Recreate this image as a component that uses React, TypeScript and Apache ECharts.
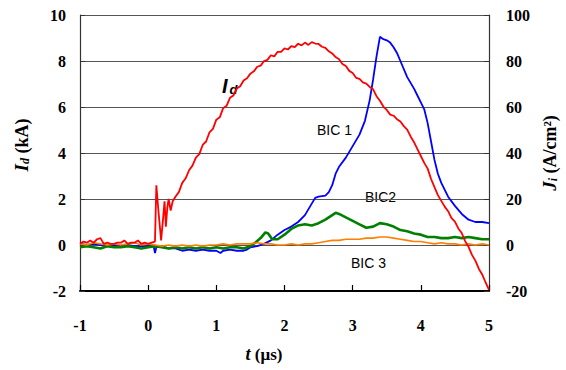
import React, { useEffect, useRef } from "react";
import * as echarts from "echarts";

// Discharge current I_d (kA) — left axis
const tRed = [-1.0, -0.95, -0.9, -0.85, -0.8, -0.75, -0.7, -0.65, -0.6, -0.55, -0.5, -0.45, -0.4, -0.35, -0.3, -0.25, -0.2, -0.15, -0.1, -0.05, 0.0, 0.05, 0.1, 0.12, 0.15, 0.19, 0.22, 0.24, 0.26, 0.28, 0.3, 0.33, 0.36, 0.4, 0.45, 0.5, 0.55, 0.6, 0.65, 0.7, 0.75, 0.8, 0.85, 0.9, 0.95, 1.0, 1.05, 1.1, 1.15, 1.2, 1.25, 1.3, 1.35, 1.4, 1.45, 1.5, 1.55, 1.6, 1.65, 1.7, 1.75, 1.8, 1.85, 1.9, 1.95, 2.0, 2.05, 2.1, 2.15, 2.2, 2.25, 2.3, 2.35, 2.4, 2.45, 2.5, 2.55, 2.6, 2.65, 2.7, 2.75, 2.8, 2.85, 2.9, 2.95, 3.0, 3.05, 3.1, 3.15, 3.2, 3.25, 3.3, 3.35, 3.4, 3.45, 3.5, 3.55, 3.6, 3.65, 3.7, 3.75, 3.8, 3.85, 3.9, 3.95, 4.0, 4.05, 4.1, 4.15, 4.2, 4.25, 4.3, 4.35, 4.4, 4.45, 4.5, 4.55, 4.6, 4.65, 4.7, 4.75, 4.8, 4.85, 4.9, 4.95, 5.0];
const idKA = [0.05, 0.15, 0.1, 0.2, 0.1, 0.25, 0.3, 0.05, 0.1, 0.05, 0.05, 0.1, 0.1, 0.2, 0.05, 0.1, 0.1, 0.2, 0.05, 0.1, 0.05, 0.1, 0.15, 2.6, 1.5, 0.2, 1.2, 1.9, 0.8, 1.6, 2.0, 1.5, 1.9, 2.1, 2.3, 2.7, 2.9, 3.25, 3.45, 3.8, 3.95, 4.35, 4.5, 4.9, 5.05, 5.45, 5.55, 5.95, 6.05, 6.4, 6.5, 6.8, 6.9, 7.15, 7.25, 7.45, 7.55, 7.75, 7.8, 8.0, 8.05, 8.25, 8.2, 8.4, 8.4, 8.55, 8.5, 8.65, 8.6, 8.75, 8.68, 8.8, 8.7, 8.82, 8.76, 8.74, 8.62, 8.57, 8.42, 8.33, 8.17, 8.08, 7.87, 7.78, 7.57, 7.48, 7.27, 7.22, 7.07, 7.02, 6.87, 6.77, 6.47, 6.27, 6.02, 5.87, 5.67, 5.62, 5.47, 5.37, 5.17, 5.02, 4.72, 4.47, 4.17, 3.87, 3.57, 3.32, 2.87, 2.52, 2.17, 1.92, 1.67, 1.47, 1.17, 1.02, 0.72, 0.52, 0.17, -0.08, -0.43, -0.68, -1.03, -1.28, -1.63, -1.95];

// Ion current density BIC 1 (A/cm²) — right axis
const tBic1 = [-1.0, -0.9, -0.8, -0.7, -0.6, -0.5, -0.4, -0.3, -0.2, -0.1, 0.0, 0.08, 0.1, 0.12, 0.2, 0.3, 0.4, 0.5, 0.6, 0.7, 0.8, 0.9, 1.0, 1.06, 1.1, 1.2, 1.3, 1.4, 1.45, 1.5, 1.6, 1.7, 1.8, 1.9, 2.0, 2.1, 2.2, 2.3, 2.4, 2.45, 2.5, 2.6, 2.65, 2.7, 2.75, 2.8, 2.9, 3.0, 3.1, 3.18, 3.25, 3.3, 3.35, 3.4, 3.45, 3.5, 3.55, 3.6, 3.65, 3.7, 3.8, 3.9, 3.95, 4.0, 4.05, 4.1, 4.15, 4.2, 4.25, 4.3, 4.4, 4.5, 4.6, 4.7, 4.8, 4.9, 5.0];
const jBic1 = [0.5, 0, 0.5, 0, -0.5, 0, -0.5, 0, -0.5, -0.5, -0.5, -0.5, -3.5, -1, -0.5, -1.5, -1.5, -2.5, -2, -2.5, -2, -2.5, -2.5, -3.5, -2.5, -2, -2.5, -2.5, -2, -1, -0.5, 0.5, 2, 4.5, 6.5, 8, 10, 13, 18, 20.5, 21, 21.5, 23, 26, 31, 34, 38, 43, 48, 54, 63, 72, 82, 90.5, 89.5, 89, 88, 86, 83.5, 80, 73, 68, 65, 62, 59, 53, 45, 37, 31, 27, 21, 17, 13.5, 11, 10, 10, 9.5];

// BIC2 (A/cm²) — right axis
const tBic2 = [-1.0, -0.9, -0.8, -0.7, -0.6, -0.5, -0.4, -0.3, -0.2, -0.1, 0.0, 0.1, 0.2, 0.3, 0.4, 0.5, 0.6, 0.7, 0.8, 0.9, 1.0, 1.1, 1.2, 1.3, 1.4, 1.5, 1.57, 1.65, 1.72, 1.76, 1.82, 1.9, 2.0, 2.1, 2.2, 2.3, 2.4, 2.5, 2.6, 2.7, 2.75, 2.8, 2.9, 3.0, 3.1, 3.2, 3.3, 3.4, 3.5, 3.6, 3.7, 3.8, 3.9, 4.0, 4.1, 4.2, 4.3, 4.4, 4.5, 4.6, 4.7, 4.8, 4.9, 5.0];
const jBic2 = [-1, -0.5, -1, -1.5, -0.5, -1, -1, -0.5, -1, -1.5, -1, -0.5, -1, -1.5, -1, -1.5, -1, -1.5, -1, -1.5, -1, -1.5, -1, -1, -1.5, -0.5, 1, 3, 5.5, 5, 2.5, 2.5, 4.5, 7, 8.5, 9, 8.5, 9.5, 11, 13, 14, 13.5, 12, 10.5, 9, 7.5, 8, 9.5, 9, 8, 6.5, 6, 5, 4.5, 3.5, 3.5, 3, 3, 3.5, 3, 3.5, 3, 2.5, 2.5];

// BIC 3 (A/cm²) — right axis
const tBic3 = [-1.0, -0.9, -0.8, -0.7, -0.6, -0.5, -0.4, -0.3, -0.2, -0.1, 0.0, 0.1, 0.2, 0.3, 0.4, 0.5, 0.6, 0.7, 0.8, 0.9, 1.0, 1.1, 1.2, 1.3, 1.4, 1.5, 1.6, 1.7, 1.8, 1.9, 2.0, 2.1, 2.2, 2.3, 2.4, 2.5, 2.6, 2.7, 2.8, 2.9, 3.0, 3.1, 3.2, 3.3, 3.4, 3.5, 3.6, 3.7, 3.8, 3.9, 4.0, 4.1, 4.2, 4.3, 4.4, 4.5, 4.6, 4.7, 4.8, 4.9, 5.0];
const jBic3 = [0.5, 0, 1, 0.5, 0, 0.5, 0, 0.5, 1, 0, 0.5, 0, -0.5, 0, -0.5, 0, -0.5, 0, -0.5, 0, 0, 0.5, 0, 0.5, 0.5, 0.5, 1, 0.5, 0.5, 0, 0, 0.5, 0, 0.5, 0.5, 1, 1.5, 2, 2, 2.5, 2.5, 2.5, 3, 3, 3.5, 3.5, 3, 2.5, 2, 1.5, 1.5, 1, 0.5, 1, 0.5, 0.5, 0, 0.5, 0, 0.5, 0];

const xTicks = [-1, 0, 1, 2, 3, 4, 5];

const pairs = (t: number[], v: number[]) => t.map((x, i) => [x, v[i]]);

const SERIF = "'Liberation Serif', 'Times New Roman', serif";
const SANS = "'Liberation Sans', Arial, sans-serif";

export default function App() {
  const ref = useRef<HTMLDivElement>(null);
  useEffect(() => {
    if (!ref.current) return;
    const chart = echarts.init(ref.current, undefined, { renderer: "svg" });
    const axisLabelStyle = { fontFamily: SERIF, fontWeight: "bold" as const, fontSize: 16, color: "#000" };
    chart.setOption({
      animation: false,
      backgroundColor: "#fff",
      grid: { left: 80, right: 77, top: 15, bottom: 79, containLabel: false },
      xAxis: {
        type: "value",
        position: "bottom",
        min: xTicks[0],
        max: xTicks[xTicks.length - 1],
        interval: 1,
        axisLine: { show: true, onZero: false, lineStyle: { color: "#000", width: 2 } },
        axisTick: { show: true, inside: true, length: 6, lineStyle: { color: "#000", width: 1.2 } },
        axisLabel: { ...axisLabelStyle, margin: 26 },
        splitLine: { show: false },
      },
      yAxis: [
        {
          type: "value",
          min: -2,
          max: 10,
          interval: 2,
          axisLine: { show: true, onZero: false, lineStyle: { color: "#333", width: 1.2 } },
          axisTick: { show: true, inside: true, length: 5, lineStyle: { color: "#333" } },
          axisLabel: { ...axisLabelStyle, margin: 14 },
          splitLine: { show: true, lineStyle: { color: "#555", width: 1 } },
        },
        {
          type: "value",
          min: -20,
          max: 100,
          interval: 20,
          position: "right",
          axisLine: { show: true, onZero: false, lineStyle: { color: "#333", width: 1.2 } },
          axisTick: { show: true, inside: true, length: 5, lineStyle: { color: "#333" } },
          axisLabel: { ...axisLabelStyle, margin: 17 },
          splitLine: { show: false },
        },
      ],
      series: [
        {
          name: "BIC 1",
          type: "line",
          yAxisIndex: 1,
          data: pairs(tBic1, jBic1),
          showSymbol: false,
          lineStyle: { color: "#0000ff", width: 1.8 },
          itemStyle: { color: "#0000ff" },
        },
        {
          name: "BIC2",
          type: "line",
          yAxisIndex: 1,
          data: pairs(tBic2, jBic2),
          showSymbol: false,
          lineStyle: { color: "#008000", width: 2.6 },
          itemStyle: { color: "#008000" },
        },
        {
          name: "BIC 3",
          type: "line",
          yAxisIndex: 1,
          data: pairs(tBic3, jBic3),
          showSymbol: false,
          lineStyle: { color: "#ff7f00", width: 1.6 },
          itemStyle: { color: "#ff7f00" },
        },
        {
          name: "Id",
          type: "line",
          yAxisIndex: 0,
          data: pairs(tRed, idKA),
          showSymbol: false,
          lineStyle: { color: "#ff0000", width: 1.8 },
          itemStyle: { color: "#ff0000" },
        },
      ],
      graphic: [
        {
          type: "text",
          x: 222,
          y: 84,
          style: {
            text: "{a|I}{b|d}",
            textVerticalAlign: "middle",
            rich: {
              a: { fontFamily: SANS, fontStyle: "italic", fontWeight: "bold", fontSize: 20, lineHeight: 24, fill: "#000", verticalAlign: "bottom" },
              b: { fontFamily: SANS, fontStyle: "italic", fontWeight: "bold", fontSize: 13, lineHeight: 24, fill: "#000", verticalAlign: "bottom", padding: [0, 0, 0, 2] },
            },
          },
        },
        { type: "text", x: 317, y: 130, style: { text: "BIC 1", font: `14px ${SANS}`, fill: "#000", textVerticalAlign: "middle" } },
        { type: "text", x: 365, y: 197, style: { text: "BIC2", font: `14px ${SANS}`, fill: "#000", textVerticalAlign: "middle" } },
        { type: "text", x: 351, y: 263, style: { text: "BIC 3", font: `14px ${SANS}`, fill: "#000", textVerticalAlign: "middle" } },
        {
          type: "text",
          x: 264,
          y: 354,
          style: {
            text: "{a|t}{b| (μs)}",
            textAlign: "center",
            textVerticalAlign: "middle",
            rich: {
              a: { fontFamily: SERIF, fontStyle: "italic", fontWeight: "bold", fontSize: 18, fill: "#000" },
              b: { fontFamily: SERIF, fontWeight: "bold", fontSize: 17, fill: "#000" },
            },
          },
        },
        {
          type: "text",
          x: 20,
          y: 145,
          rotation: Math.PI / 2,
          style: {
            text: "{a|I}{b|d}{c| (kA)}",
            textAlign: "center",
            textVerticalAlign: "middle",
            rich: {
              a: { fontFamily: SERIF, fontStyle: "italic", fontWeight: "bold", fontSize: 19, lineHeight: 22, fill: "#000", verticalAlign: "bottom" },
              b: { fontFamily: SERIF, fontStyle: "italic", fontWeight: "bold", fontSize: 12, lineHeight: 22, fill: "#000", verticalAlign: "bottom" },
              c: { fontFamily: SERIF, fontWeight: "bold", fontSize: 18, lineHeight: 22, fill: "#000", verticalAlign: "bottom" },
            },
          },
        },
        {
          type: "text",
          x: 548,
          y: 153,
          rotation: Math.PI / 2,
          style: {
            text: "{a|J}{b|i}{c| (A/cm²)}",
            textAlign: "center",
            textVerticalAlign: "middle",
            rich: {
              a: { fontFamily: SERIF, fontStyle: "italic", fontWeight: "bold", fontSize: 19, lineHeight: 22, fill: "#000", verticalAlign: "bottom" },
              b: { fontFamily: SERIF, fontStyle: "italic", fontWeight: "bold", fontSize: 12, lineHeight: 22, fill: "#000", verticalAlign: "bottom" },
              c: { fontFamily: SERIF, fontWeight: "bold", fontSize: 18, lineHeight: 22, fill: "#000", verticalAlign: "bottom" },
            },
          },
        },
      ],
    });
    return () => chart.dispose();
  }, []);
  return (
    <div
      ref={ref}
      style={{ position: "fixed", left: 0, top: 0, width: 566, height: 370, background: "#fff" }}
    />
  );
}
